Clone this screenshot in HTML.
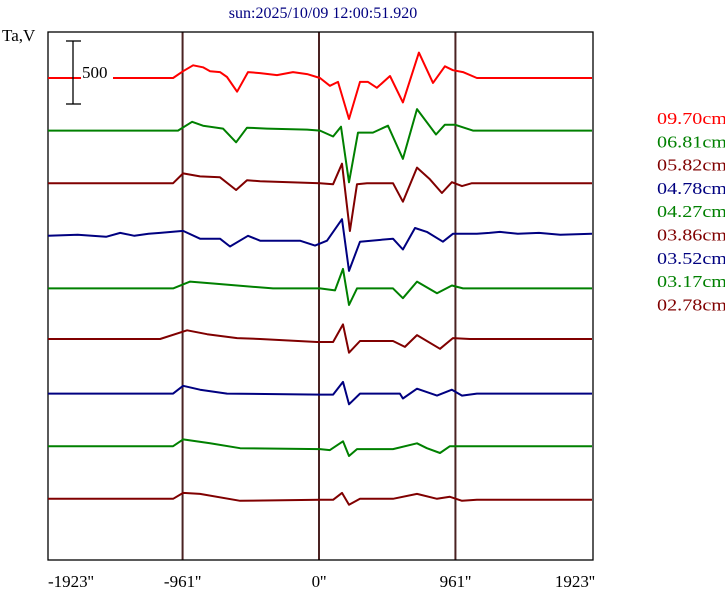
<!DOCTYPE html>
<html><head><meta charset="utf-8"><style>
html,body{margin:0;padding:0;background:#fff;}
svg{display:block;font-family:"Liberation Serif",serif;}
</style></head><body>
<svg id="chart" width="725" height="591" viewBox="0 0 725 591">
<rect x="0" y="0" width="725" height="591" fill="#fff"/>
<text x="323" y="18" font-size="16" fill="#000080" text-anchor="middle">sun:2025/10/09 12:00:51.920</text>
<text x="2" y="41" font-size="17" fill="#000">Ta,V</text>
<g id="grid"></g>
<rect x="48" y="32" width="545" height="528" fill="none" stroke="#000" stroke-width="1.3"/>
<g id="traces"></g>
<g>
<rect x="81" y="62" width="32" height="20" fill="#fff"/>
<line x1="73" y1="41" x2="73" y2="104" stroke="#000" stroke-width="1.3"/>
<line x1="66" y1="41" x2="81" y2="41" stroke="#000" stroke-width="1.3"/>
<line x1="66" y1="104" x2="81" y2="104" stroke="#000" stroke-width="1.3"/>
<text x="82" y="78" font-size="17" fill="#000">500</text>
</g>
<g id="xlabels"></g>
<g id="legend"></g>
</svg>
<script>
// x positions in arcsec, values in Ta (offset from each trace baseline)
const xTicks = [-1923, -961, 0, 961, 1923];
const xTickLabels = ["-1923''", "-961''", "0''", "961''", "1923''"];
const gridLines = [-961, 0, 961];
const legendLabels = ["09.70cm","06.81cm","05.82cm","04.78cm","04.27cm","03.86cm","03.52cm","03.17cm","02.78cm"];
const seriesColors = ["#ff0000","#008000","#800000","#000080","#008000","#800000","#000080","#008000","#800000"];

const x970 = [-1923,-1028,-957,-887,-817,-767,-697,-648,-577,-500,-415,-296,-183,-84,7,77,134,211,289,345,408,500,591,704,803,887,943,1014,1112,1923];
const v970 = [0,0,56,104,88,56,48,8,-112,48,40,24,48,32,0,-64,-32,-336,-32,-32,-80,16,-200,208,-40,96,64,48,0,0];
const x681 = [-1923,-993,-894,-817,-676,-584,-507,-366,-84,7,99,155,211,275,380,486,591,690,824,887,957,1084,1923];
const v681 = [0,0,72,40,16,-96,24,16,8,0,-48,32,-424,-16,-16,40,-232,176,-32,48,48,0,0];
const x582 = [-1923,-1028,-957,-838,-697,-584,-507,-415,7,99,162,218,268,338,521,591,690,781,866,936,1007,1077,1923];
const v582 = [0,0,80,56,48,-56,24,16,0,-8,160,-392,-8,0,0,-152,128,32,-80,8,-24,0,0];
const x478 = [-1923,-1700,-1500,-1400,-1300,-1200,-1119,-957,-838,-697,-627,-500,-415,-134,-28,56,162,211,289,521,591,676,760,873,943,1112,1200,1274,1400,1550,1700,1923];
const v478 = [0,8,-8,24,0,16,24,40,-24,-24,-88,0,-40,-40,-80,-40,136,-288,-48,-24,-112,64,32,-48,16,16,24,32,16,24,8,16];
const x427 = [-1923,-1028,-908,-746,-577,-324,7,113,169,211,268,521,591,690,831,936,1014,1923];
const v427 = [0,0,56,40,24,0,0,-16,160,-136,0,0,-80,56,-40,24,0,0];
const x386 = [-1923,-1119,-929,-788,-577,-415,-14,99,169,211,289,521,605,690,852,943,1063,1923];
const v386 = [16,16,88,56,24,16,-8,-8,136,-96,0,0,-48,48,-64,24,16,16];
const x352 = [-1923,-1028,-957,-838,-648,7,99,169,211,289,570,591,690,831,936,1007,1112,1923];
const v352 = [0,0,64,32,0,-8,-8,96,-88,0,0,-40,40,-16,32,-16,0,0];
const x317 = [-1923,-1028,-957,-767,-556,7,77,169,211,268,521,690,760,852,922,1923];
const v317 = [0,0,56,24,-16,-24,-32,40,-80,-24,-24,24,-16,-56,0,0];
const x278 = [-1923,-1028,-957,-838,-556,7,99,162,211,289,521,690,831,922,1007,1112,1923];
const v278 = [0,0,48,40,-16,-8,-8,48,-48,0,0,40,0,16,-16,-8,-8];

const seriesX = [x970,x681,x582,x478,x427,x386,x352,x317,x278];
const seriesV = [v970,v681,v582,v478,v427,v386,v352,v317,v278];

const SVGNS = "http://www.w3.org/2000/svg";
const dataLeft = 46, dataRight = 592, plotTop = 32, plotBottom = 560;
const baseTop = 78, baseStep = 52.6;
const pxPerTa = 61/500;
function xs(a){ return dataLeft + (a + 1923) / 3846 * (dataRight - dataLeft); }
function ys(i, v){ return baseTop + i * baseStep - v * pxPerTa; }

const gridG = document.getElementById('grid');
gridLines.forEach(function(g){
  const l = document.createElementNS(SVGNS, 'line');
  l.setAttribute('x1', xs(g)); l.setAttribute('x2', xs(g));
  l.setAttribute('y1', plotTop); l.setAttribute('y2', plotBottom);
  l.setAttribute('stroke', '#4a2222'); l.setAttribute('stroke-width', '2');
  
  
  gridG.appendChild(l);
});

const tracesG = document.getElementById('traces');
seriesX.forEach(function(xa, i){
  const va = seriesV[i];
  const pts = xa.map(function(a, k){ return Math.max(48, Math.min(593, xs(a))).toFixed(1) + ',' + ys(i, va[k]).toFixed(1); }).join(' ');
  const p = document.createElementNS(SVGNS, 'polyline');
  p.setAttribute('points', pts);
  p.setAttribute('fill', 'none');
  p.setAttribute('stroke', seriesColors[i]);
  p.setAttribute('stroke-width', '2');
  p.setAttribute('stroke-linejoin', 'round');
  
  
  tracesG.appendChild(p);
});

const xlG = document.getElementById('xlabels');
xTicks.forEach(function(t, i){
  const tx = document.createElementNS(SVGNS, 'text');
  let anchor = 'middle', xp = xs(t);
  if (i === 0) { anchor = 'start'; xp = 48; }
  if (i === xTicks.length - 1) { anchor = 'end'; xp = 595; }
  tx.setAttribute('x', xp); tx.setAttribute('y', 587);
  tx.setAttribute('text-anchor', anchor);
  tx.setAttribute('font-size', '17');
  tx.textContent = xTickLabels[i];
  
  
  xlG.appendChild(tx);
});

const lgG = document.getElementById('legend');
legendLabels.forEach(function(lab, i){
  const tx = document.createElementNS(SVGNS, 'text');
  tx.setAttribute('x', 657); tx.setAttribute('y', 124 + i * 23.3);
  tx.setAttribute('font-size', '17');
  tx.setAttribute('textLength', '70');
  tx.setAttribute('lengthAdjust', 'spacingAndGlyphs');
  tx.setAttribute('fill', seriesColors[i]);
  tx.textContent = lab;
  
  
  lgG.appendChild(tx);
});
</script>
</body></html>
